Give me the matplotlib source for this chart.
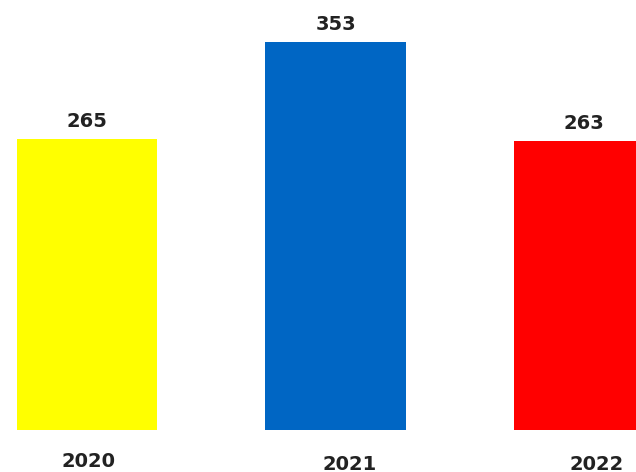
import matplotlib
matplotlib.use("Agg")
import matplotlib.pyplot as plt

years = ["2020", "2021", "2022"]
values = [265, 353, 263]
colors = ["#ffff00", "#0066c4", "#ff0000"]
label_dx_px = [2, 14, 13]
label_dy_px = [-32, -35, -35]

fig = plt.figure(figsize=(6.36, 4.72), dpi=100)
ax = fig.add_axes([0, 0, 1, 1])
x = list(range(len(years)))
bars = ax.bar(x, values, width=0.565, color=colors)
ax.set_xlim(-0.350, 2.209)
ax.set_ylim(-38.25, 391.6)
ax.axis("off")

for xi, v in zip(x, values):
    ax.annotate(str(v), (xi, v), xytext=(0, 6), textcoords="offset points",
                ha="center", va="bottom", fontsize=14, fontweight="bold",
                color="#222222", family="DejaVu Sans")

for xi, lab, dx, dy in zip(x, years, label_dx_px, label_dy_px):
    ax.annotate(lab, (xi, 0), xytext=(dx * 0.72, dy * 0.72), textcoords="offset points",
                ha="center", va="center", fontsize=14, fontweight="bold",
                color="#222222", family="DejaVu Sans")

fig.savefig("out.png", dpi=100)
